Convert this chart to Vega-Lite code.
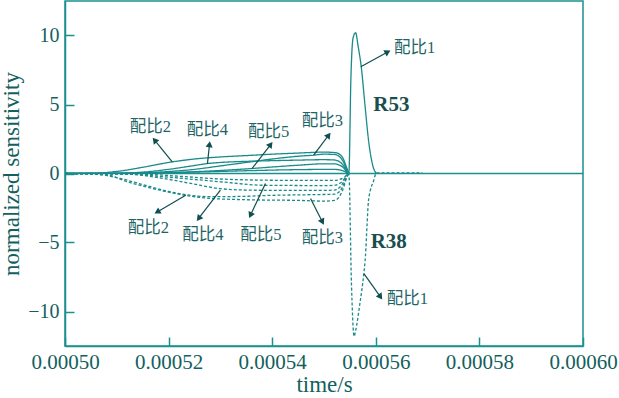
{
  "$schema": "https://vega.github.io/schema/vega-lite/v6.json",
  "width": 518,
  "height": 345,
  "autosize": {"type": "none"},
  "padding": {"left": 65, "top": 1, "right": 36, "bottom": 52},
  "background": "white",
  "config": {
    "view": {"stroke": "#1a9090", "strokeWidth": 1.5},
    "axis": {
      "labelFont": "Liberation Serif",
      "titleFont": "Liberation Serif",
      "labelFontSize": 20,
      "titleFontSize": 23,
      "titleFontWeight": "normal",
      "labelColor": "#145f60",
      "titleColor": "#145f60",
      "domainColor": "#1a9090",
      "domainWidth": 1.5,
      "tickColor": "#1a9090",
      "tickWidth": 1.5,
      "labelFlush": false,
      "labelOverlap": false,
      "labelBound": false,
      "grid": false
    }
  },
  "datasets": {
    "curves": [
      {"mix": "配比1", "gas": "R53", "t": 0.0005, "v": 0},
      {"mix": "配比1", "gas": "R53", "t": 0.000515, "v": 0.03},
      {"mix": "配比1", "gas": "R53", "t": 0.000525, "v": 0.1},
      {"mix": "配比1", "gas": "R53", "t": 0.000535, "v": 0.2},
      {"mix": "配比1", "gas": "R53", "t": 0.000545, "v": 0.28},
      {"mix": "配比1", "gas": "R53", "t": 0.000552, "v": 0.3},
      {"mix": "配比1", "gas": "R53", "t": 0.000554, "v": 0.15},
      {"mix": "配比1", "gas": "R53", "t": 0.0005548, "v": 0},
      {"mix": "配比1", "gas": "R53", "t": 0.0005552, "v": 7.0},
      {"mix": "配比1", "gas": "R53", "t": 0.0005556, "v": 9.8},
      {"mix": "配比1", "gas": "R53", "t": 0.0005561, "v": 10.2},
      {"mix": "配比1", "gas": "R53", "t": 0.0005566, "v": 9.2},
      {"mix": "配比1", "gas": "R53", "t": 0.0005572, "v": 7.7},
      {"mix": "配比1", "gas": "R53", "t": 0.0005579, "v": 5.0},
      {"mix": "配比1", "gas": "R53", "t": 0.0005586, "v": 2.4},
      {"mix": "配比1", "gas": "R53", "t": 0.0005594, "v": 0.6},
      {"mix": "配比1", "gas": "R53", "t": 0.0005601, "v": 0},

      {"mix": "配比2", "gas": "R53", "t": 0.0005, "v": 0},
      {"mix": "配比2", "gas": "R53", "t": 0.000506, "v": 0.03},
      {"mix": "配比2", "gas": "R53", "t": 0.00051, "v": 0.15},
      {"mix": "配比2", "gas": "R53", "t": 0.000515, "v": 0.45},
      {"mix": "配比2", "gas": "R53", "t": 0.00052, "v": 0.8},
      {"mix": "配比2", "gas": "R53", "t": 0.000525, "v": 1.05},
      {"mix": "配比2", "gas": "R53", "t": 0.00053, "v": 1.2},
      {"mix": "配比2", "gas": "R53", "t": 0.000535, "v": 1.3},
      {"mix": "配比2", "gas": "R53", "t": 0.00054, "v": 1.4},
      {"mix": "配比2", "gas": "R53", "t": 0.000545, "v": 1.48},
      {"mix": "配比2", "gas": "R53", "t": 0.00055, "v": 1.55},
      {"mix": "配比2", "gas": "R53", "t": 0.000552, "v": 1.52},
      {"mix": "配比2", "gas": "R53", "t": 0.000553, "v": 1.4},
      {"mix": "配比2", "gas": "R53", "t": 0.0005538, "v": 1.0},
      {"mix": "配比2", "gas": "R53", "t": 0.0005543, "v": 0.5},
      {"mix": "配比2", "gas": "R53", "t": 0.0005548, "v": 0},

      {"mix": "配比3", "gas": "R53", "t": 0.0005, "v": 0},
      {"mix": "配比3", "gas": "R53", "t": 0.000512, "v": 0.02},
      {"mix": "配比3", "gas": "R53", "t": 0.000518, "v": 0.1},
      {"mix": "配比3", "gas": "R53", "t": 0.000525, "v": 0.3},
      {"mix": "配比3", "gas": "R53", "t": 0.00053, "v": 0.55},
      {"mix": "配比3", "gas": "R53", "t": 0.000535, "v": 0.8},
      {"mix": "配比3", "gas": "R53", "t": 0.00054, "v": 1.05},
      {"mix": "配比3", "gas": "R53", "t": 0.000545, "v": 1.25},
      {"mix": "配比3", "gas": "R53", "t": 0.000548, "v": 1.33},
      {"mix": "配比3", "gas": "R53", "t": 0.00055, "v": 1.4},
      {"mix": "配比3", "gas": "R53", "t": 0.000552, "v": 1.38},
      {"mix": "配比3", "gas": "R53", "t": 0.000553, "v": 1.22},
      {"mix": "配比3", "gas": "R53", "t": 0.0005538, "v": 0.8},
      {"mix": "配比3", "gas": "R53", "t": 0.0005543, "v": 0.35},
      {"mix": "配比3", "gas": "R53", "t": 0.0005548, "v": 0},

      {"mix": "配比4", "gas": "R53", "t": 0.0005, "v": 0},
      {"mix": "配比4", "gas": "R53", "t": 0.00051, "v": 0.02},
      {"mix": "配比4", "gas": "R53", "t": 0.000515, "v": 0.1},
      {"mix": "配比4", "gas": "R53", "t": 0.00052, "v": 0.3},
      {"mix": "配比4", "gas": "R53", "t": 0.000525, "v": 0.58},
      {"mix": "配比4", "gas": "R53", "t": 0.0005275, "v": 0.72},
      {"mix": "配比4", "gas": "R53", "t": 0.00053, "v": 0.8},
      {"mix": "配比4", "gas": "R53", "t": 0.000535, "v": 0.88},
      {"mix": "配比4", "gas": "R53", "t": 0.00054, "v": 0.93},
      {"mix": "配比4", "gas": "R53", "t": 0.000545, "v": 0.97},
      {"mix": "配比4", "gas": "R53", "t": 0.00055, "v": 1.0},
      {"mix": "配比4", "gas": "R53", "t": 0.000552, "v": 0.98},
      {"mix": "配比4", "gas": "R53", "t": 0.000553, "v": 0.85},
      {"mix": "配比4", "gas": "R53", "t": 0.0005538, "v": 0.55},
      {"mix": "配比4", "gas": "R53", "t": 0.0005543, "v": 0.25},
      {"mix": "配比4", "gas": "R53", "t": 0.0005548, "v": 0},

      {"mix": "配比5", "gas": "R53", "t": 0.0005, "v": 0},
      {"mix": "配比5", "gas": "R53", "t": 0.000515, "v": 0.02},
      {"mix": "配比5", "gas": "R53", "t": 0.00052, "v": 0.06},
      {"mix": "配比5", "gas": "R53", "t": 0.000525, "v": 0.13},
      {"mix": "配比5", "gas": "R53", "t": 0.00053, "v": 0.22},
      {"mix": "配比5", "gas": "R53", "t": 0.000536, "v": 0.36},
      {"mix": "配比5", "gas": "R53", "t": 0.00054, "v": 0.47},
      {"mix": "配比5", "gas": "R53", "t": 0.000545, "v": 0.6},
      {"mix": "配比5", "gas": "R53", "t": 0.00055, "v": 0.7},
      {"mix": "配比5", "gas": "R53", "t": 0.000552, "v": 0.7},
      {"mix": "配比5", "gas": "R53", "t": 0.000553, "v": 0.6},
      {"mix": "配比5", "gas": "R53", "t": 0.0005538, "v": 0.4},
      {"mix": "配比5", "gas": "R53", "t": 0.0005543, "v": 0.15},
      {"mix": "配比5", "gas": "R53", "t": 0.0005548, "v": 0},

      {"mix": "配比1", "gas": "R38", "t": 0.0005, "v": 0},
      {"mix": "配比1", "gas": "R38", "t": 0.000515, "v": -0.05},
      {"mix": "配比1", "gas": "R38", "t": 0.000522, "v": -0.2},
      {"mix": "配比1", "gas": "R38", "t": 0.00053, "v": -0.4},
      {"mix": "配比1", "gas": "R38", "t": 0.000535, "v": -0.46},
      {"mix": "配比1", "gas": "R38", "t": 0.000545, "v": -0.5},
      {"mix": "配比1", "gas": "R38", "t": 0.000552, "v": -0.5},
      {"mix": "配比1", "gas": "R38", "t": 0.000554, "v": -0.25},
      {"mix": "配比1", "gas": "R38", "t": 0.0005548, "v": 0},
      {"mix": "配比1", "gas": "R38", "t": 0.0005553, "v": -8.0},
      {"mix": "配比1", "gas": "R38", "t": 0.0005558, "v": -11.8},
      {"mix": "配比1", "gas": "R38", "t": 0.0005561, "v": -11.4},
      {"mix": "配比1", "gas": "R38", "t": 0.0005569, "v": -9.5},
      {"mix": "配比1", "gas": "R38", "t": 0.0005577, "v": -7.2},
      {"mix": "配比1", "gas": "R38", "t": 0.000558, "v": -6.0},
      {"mix": "配比1", "gas": "R38", "t": 0.0005583, "v": -3.8},
      {"mix": "配比1", "gas": "R38", "t": 0.0005586, "v": -1.93},
      {"mix": "配比1", "gas": "R38", "t": 0.0005596, "v": -0.5},
      {"mix": "配比1", "gas": "R38", "t": 0.0005601, "v": 0.05},
      {"mix": "配比1", "gas": "R38", "t": 0.000569, "v": 0.05},

      {"mix": "配比2", "gas": "R38", "t": 0.0005, "v": 0},
      {"mix": "配比2", "gas": "R38", "t": 0.000506, "v": -0.05},
      {"mix": "配比2", "gas": "R38", "t": 0.00051, "v": -0.3},
      {"mix": "配比2", "gas": "R38", "t": 0.000515, "v": -0.8},
      {"mix": "配比2", "gas": "R38", "t": 0.00052, "v": -1.3},
      {"mix": "配比2", "gas": "R38", "t": 0.000524, "v": -1.57},
      {"mix": "配比2", "gas": "R38", "t": 0.000528, "v": -1.68},
      {"mix": "配比2", "gas": "R38", "t": 0.000535, "v": -1.65},
      {"mix": "配比2", "gas": "R38", "t": 0.00054, "v": -1.58},
      {"mix": "配比2", "gas": "R38", "t": 0.000545, "v": -1.55},
      {"mix": "配比2", "gas": "R38", "t": 0.00055, "v": -1.52},
      {"mix": "配比2", "gas": "R38", "t": 0.000552, "v": -1.5},
      {"mix": "配比2", "gas": "R38", "t": 0.000553, "v": -1.3},
      {"mix": "配比2", "gas": "R38", "t": 0.0005538, "v": -0.8},
      {"mix": "配比2", "gas": "R38", "t": 0.0005543, "v": -0.3},
      {"mix": "配比2", "gas": "R38", "t": 0.0005548, "v": 0},

      {"mix": "配比3", "gas": "R38", "t": 0.0005, "v": 0},
      {"mix": "配比3", "gas": "R38", "t": 0.000508, "v": -0.1},
      {"mix": "配比3", "gas": "R38", "t": 0.000512, "v": -0.6},
      {"mix": "配比3", "gas": "R38", "t": 0.000516, "v": -1.0},
      {"mix": "配比3", "gas": "R38", "t": 0.000522, "v": -1.5},
      {"mix": "配比3", "gas": "R38", "t": 0.000528, "v": -1.8},
      {"mix": "配比3", "gas": "R38", "t": 0.000535, "v": -1.9},
      {"mix": "配比3", "gas": "R38", "t": 0.000545, "v": -1.95},
      {"mix": "配比3", "gas": "R38", "t": 0.00055, "v": -2.0},
      {"mix": "配比3", "gas": "R38", "t": 0.000552, "v": -1.95},
      {"mix": "配比3", "gas": "R38", "t": 0.000553, "v": -1.65},
      {"mix": "配比3", "gas": "R38", "t": 0.0005538, "v": -1.0},
      {"mix": "配比3", "gas": "R38", "t": 0.0005543, "v": -0.4},
      {"mix": "配比3", "gas": "R38", "t": 0.0005548, "v": 0},

      {"mix": "配比4", "gas": "R38", "t": 0.0005, "v": 0},
      {"mix": "配比4", "gas": "R38", "t": 0.000512, "v": -0.05},
      {"mix": "配比4", "gas": "R38", "t": 0.000518, "v": -0.3},
      {"mix": "配比4", "gas": "R38", "t": 0.000524, "v": -0.7},
      {"mix": "配比4", "gas": "R38", "t": 0.00053, "v": -1.1},
      {"mix": "配比4", "gas": "R38", "t": 0.000535, "v": -1.2},
      {"mix": "配比4", "gas": "R38", "t": 0.00054, "v": -1.22},
      {"mix": "配比4", "gas": "R38", "t": 0.00055, "v": -1.22},
      {"mix": "配比4", "gas": "R38", "t": 0.000552, "v": -1.2},
      {"mix": "配比4", "gas": "R38", "t": 0.000553, "v": -1.02},
      {"mix": "配比4", "gas": "R38", "t": 0.0005538, "v": -0.6},
      {"mix": "配比4", "gas": "R38", "t": 0.0005543, "v": -0.22},
      {"mix": "配比4", "gas": "R38", "t": 0.0005548, "v": 0},

      {"mix": "配比5", "gas": "R38", "t": 0.0005, "v": 0},
      {"mix": "配比5", "gas": "R38", "t": 0.000513, "v": -0.05},
      {"mix": "配比5", "gas": "R38", "t": 0.000518, "v": -0.2},
      {"mix": "配比5", "gas": "R38", "t": 0.000524, "v": -0.4},
      {"mix": "配比5", "gas": "R38", "t": 0.00053, "v": -0.6},
      {"mix": "配比5", "gas": "R38", "t": 0.000538, "v": -0.85},
      {"mix": "配比5", "gas": "R38", "t": 0.000545, "v": -0.87},
      {"mix": "配比5", "gas": "R38", "t": 0.00055, "v": -0.88},
      {"mix": "配比5", "gas": "R38", "t": 0.000552, "v": -0.85},
      {"mix": "配比5", "gas": "R38", "t": 0.000553, "v": -0.72},
      {"mix": "配比5", "gas": "R38", "t": 0.0005538, "v": -0.45},
      {"mix": "配比5", "gas": "R38", "t": 0.0005543, "v": -0.15},
      {"mix": "配比5", "gas": "R38", "t": 0.0005548, "v": 0}
    ],
    "labels": [
      {"text": "配比2", "t": 0.0005165, "v": 3.35},
      {"text": "配比4", "t": 0.0005275, "v": 3.13},
      {"text": "配比5", "t": 0.0005393, "v": 2.99},
      {"text": "配比3", "t": 0.0005497, "v": 3.78},
      {"text": "配比1", "t": 0.0005675, "v": 9.06},
      {"text": "配比2", "t": 0.0005161, "v": -3.98},
      {"text": "配比4", "t": 0.0005266, "v": -4.47},
      {"text": "配比5", "t": 0.0005378, "v": -4.47},
      {"text": "配比3", "t": 0.0005497, "v": -4.71},
      {"text": "配比1", "t": 0.0005661, "v": -9.06}
    ],
    "gasLabels": [
      {"text": "R53", "t": 0.000563, "v": 4.94},
      {"text": "R38", "t": 0.0005625, "v": -4.96}
    ],
    "arrows": [
      {"t1": 0.0005207, "v1": 0.84, "t2": 0.0005173, "v2": 2.42, "angle": 321},
      {"t1": 0.0005275, "v1": 0.72, "t2": 0.0005279, "v2": 2.12, "angle": 7},
      {"t1": 0.0005361, "v1": 0.36, "t2": 0.0005397, "v2": 2.1, "angle": 37},
      {"t1": 0.000548, "v1": 1.33, "t2": 0.0005509, "v2": 2.78, "angle": 37},
      {"t1": 0.0005571, "v1": 7.73, "t2": 0.0005623, "v2": 8.81, "angle": 61},
      {"t1": 0.0005233, "v1": -1.57, "t2": 0.0005178, "v2": -2.79, "angle": 240},
      {"t1": 0.00053, "v1": -1.21, "t2": 0.0005258, "v2": -3.26, "angle": 218},
      {"t1": 0.0005387, "v1": -0.72, "t2": 0.0005358, "v2": -3.02, "angle": 205},
      {"t1": 0.0005474, "v1": -1.81, "t2": 0.0005497, "v2": -3.51, "angle": 153},
      {"t1": 0.0005577, "v1": -7.25, "t2": 0.0005609, "v2": -8.94, "angle": 145}
    ],
    "zero": [{"v": 0}]
  },
  "layer": [
    {
      "data": {"name": "zero"},
      "mark": {"type": "rule", "color": "#1a9090", "strokeWidth": 1.5},
      "encoding": {
        "y": {"field": "v", "type": "quantitative", "scale": {"domain": [-12.5, 12.5], "nice": false}}
      }
    },
    {
      "data": {"name": "curves"},
      "mark": {"type": "line", "color": "#1a8a8a", "strokeWidth": 1.3, "interpolate": "monotone"},
      "encoding": {
        "x": {
          "field": "t", "type": "quantitative",
          "scale": {"domain": [0.0005, 0.0006], "nice": false, "zero": false},
          "axis": {
            "title": "time/s",
            "values": [0.0005, 0.00052, 0.00054, 0.00056, 0.00058, 0.0006],
            "format": ".5f",
            "tickSize": -9,
            "labelFontSize": 21,
            "labelPadding": 14,
            "titlePadding": 1
          }
        },
        "y": {
          "field": "v", "type": "quantitative",
          "scale": {"domain": [-12.5, 12.5], "nice": false},
          "axis": {
            "title": "normalized sensitivity",
            "values": [-10, -5, 0, 5, 10],
            "tickSize": -9,
            "labelPadding": 15,
            "titlePadding": 4
          }
        },
        "detail": {"field": "mix"},
        "strokeDash": {
          "field": "gas", "type": "nominal",
          "scale": {"domain": ["R53", "R38"], "range": [[1, 0], [3, 2]]},
          "legend": null
        }
      }
    },
    {
      "data": {"name": "arrows"},
      "mark": {"type": "rule", "color": "#0f4f50", "strokeWidth": 1.2},
      "encoding": {
        "x": {"field": "t1", "type": "quantitative"},
        "y": {"field": "v1", "type": "quantitative"},
        "x2": {"field": "t2"},
        "y2": {"field": "v2"}
      }
    },
    {
      "data": {"name": "arrows"},
      "mark": {"type": "point", "shape": "triangle-up", "filled": true, "color": "#0f4f50", "size": 50, "opacity": 1},
      "encoding": {
        "x": {"field": "t2", "type": "quantitative"},
        "y": {"field": "v2", "type": "quantitative"},
        "angle": {"field": "angle", "type": "quantitative", "scale": null}
      }
    },
    {
      "data": {"name": "labels"},
      "mark": {"type": "text", "font": "Liberation Serif, Noto Sans CJK SC", "fontSize": 16.5, "color": "#1d6466"},
      "encoding": {
        "x": {"field": "t", "type": "quantitative"},
        "y": {"field": "v", "type": "quantitative"},
        "text": {"field": "text"}
      }
    },
    {
      "data": {"name": "gasLabels"},
      "mark": {"type": "text", "font": "Liberation Serif", "fontSize": 21, "fontWeight": "bold", "color": "#1a4f50"},
      "encoding": {
        "x": {"field": "t", "type": "quantitative"},
        "y": {"field": "v", "type": "quantitative"},
        "text": {"field": "text"}
      }
    }
  ]
}
